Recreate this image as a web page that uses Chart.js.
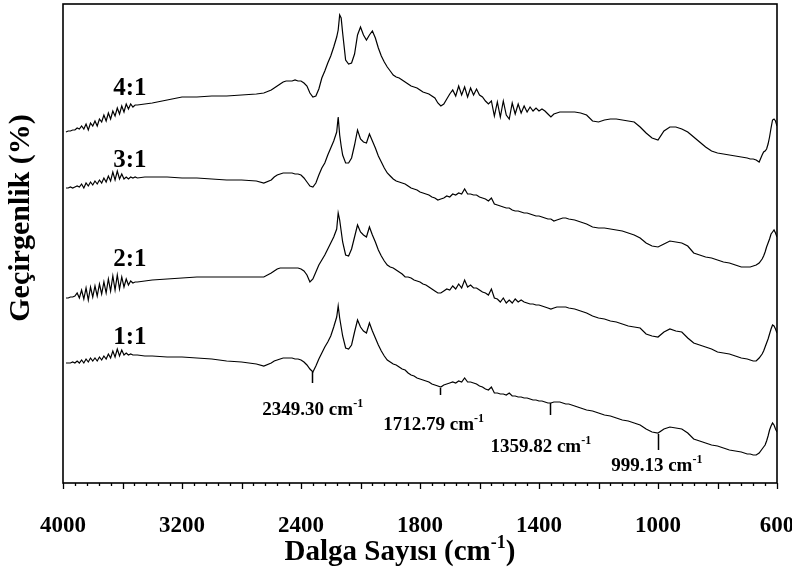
<!DOCTYPE html>
<html>
<head>
    <title>FTIR Spectra</title>
    <script src="https://cdn.jsdelivr.net/npm/chart.js"></script>
    <style>
        body { margin: 0; background: #fff; }
    </style>
</head>
<body>
    <canvas id="myChart" width="792" height="573"></canvas>

    <script>
        // Dalga sayısı ızgarası (cm-1), tüm spektrumlar için ortak
        var wavenumbers = [
            3980, 3965, 3950, 3935, 3920, 3905, 3890, 3875, 3860, 3845, 3830, 3815, 3800, 3785, 3770, 3755, 3740,
            3725, 3710, 3695, 3680, 3665, 3650, 3635, 3620, 3605, 3590, 3575, 3560, 3545, 3530, 3515, 3500,
            3450, 3400, 3300, 3200, 3100, 3000, 2900, 2800, 2700, 2650,
            2600, 2580, 2560, 2540, 2520, 2500, 2480, 2460, 2440, 2420, 2400, 2380, 2360, 2340, 2320, 2300, 2280,
            2260, 2240, 2220, 2200, 2180, 2160, 2150, 2140, 2130, 2120, 2100, 2080, 2060, 2040, 2020, 2000,
            1990, 1980, 1970, 1960, 1950, 1940, 1930, 1920, 1910, 1900, 1890, 1880, 1870, 1860, 1850,
            1840, 1830, 1820, 1810, 1800, 1790, 1780, 1770, 1760, 1750, 1740, 1730, 1720, 1710, 1700,
            1690, 1680, 1670, 1660, 1650, 1640, 1630, 1620, 1610, 1600, 1590, 1580, 1570, 1560, 1550,
            1540, 1530, 1520, 1510, 1500, 1490, 1480, 1470, 1460, 1450, 1440, 1430, 1420, 1410, 1400,
            1390, 1380, 1370, 1360, 1350, 1340, 1330, 1320, 1310, 1300,
            1280, 1260, 1240, 1220, 1200, 1180, 1160, 1140, 1120, 1100, 1080, 1060, 1040, 1020, 1000,
            980, 960, 940, 920, 900, 880, 860, 840, 820, 800, 780, 760, 740, 720, 700,
            690, 680, 670, 660, 650, 645, 640, 635, 630, 625, 620, 615, 610, 605, 600
        ];

        // Geçirgenlik (kaydırılmış, keyfi birim)
        var t41 = [
            368, 369, 369, 370, 370, 372, 371, 374, 371, 376, 370, 377, 374, 379, 374, 381, 378,
            385, 379, 387, 381, 389, 384, 392, 386, 394, 388, 396, 391, 396, 393, 395, 395,
            396, 397, 400, 403, 403, 404, 404, 405, 406, 407,
            410, 412, 414, 416, 418, 419, 419, 419, 420, 419, 419, 417, 414, 407, 403, 404, 411,
            422, 429, 437, 444, 453, 463, 470, 485, 482, 467, 440, 436, 437, 446, 465, 473,
            465, 460, 465, 469, 462, 452, 444, 438, 433, 429, 425, 423, 422, 420, 418,
            416, 414, 413, 412, 410, 408, 407, 406, 404, 402, 397, 394, 396, 401, 406,
            410, 404, 414, 405, 413, 403, 412, 405, 411, 405, 403, 399, 396, 399, 384,
            398, 383, 399, 385, 381, 397, 386, 396, 387, 394, 388, 393, 389, 392, 389,
            391, 389, 386, 383, 386, 387, 388, 388, 388, 388,
            388, 387, 385, 379, 378, 380, 381, 381, 380, 379, 378, 373, 367, 362, 360,
            369, 373, 373, 371, 368, 363, 358, 353, 349, 347, 346, 345, 344, 343, 342,
            341, 341, 340, 338, 345, 348, 349, 351, 356, 363, 372, 380, 381, 379, 374
        ];

        var t31 = [
            312, 312, 313, 312, 313, 314, 313, 316, 312, 317, 314, 318, 315, 319, 316, 320, 317,
            322, 318, 324, 319, 328, 320, 329, 321, 326, 321, 323, 321, 323, 322, 323, 322,
            323, 323, 323, 322, 322, 321, 320, 320, 319, 317,
            320, 323, 325, 326, 327, 327, 327, 327, 326, 326, 325, 322, 318, 314, 313, 317, 325,
            332, 337, 345, 352, 359, 368, 383, 365, 354, 345, 337, 337, 342, 355, 370, 361,
            358, 357, 366, 359, 352, 344, 338, 332, 327, 324, 321, 319, 318, 317, 316,
            314, 312, 311, 310, 308, 307, 306, 305, 303, 302, 300, 301, 302, 304, 303,
            306, 305, 307, 306, 311, 306, 306, 305, 305, 303, 302, 301, 299, 302, 296,
            295, 294, 293, 292, 292, 290, 289, 289, 288, 287, 287, 286, 285, 284, 284,
            283, 282, 281, 281, 279, 280, 281, 282, 282, 281,
            280, 278, 276, 273, 272, 272, 271, 270, 269, 267, 265, 262, 257, 254, 253,
            256, 259, 258, 257, 254, 247, 245, 243, 242, 240, 238, 237, 235, 233, 233,
            233, 234, 235, 237, 241, 244, 248, 253, 257, 261, 266, 268, 270, 267, 263
        ];

        var t21 = [
            202, 202, 203, 203, 204, 207, 202, 210, 201, 212, 200, 213, 203, 214, 204, 216, 206,
            218, 207, 221, 209, 224, 210, 225, 211, 223, 213, 221, 215, 219, 217, 218, 218,
            219, 220, 221, 222, 223, 223, 223, 223, 223, 223,
            227, 229, 231, 232, 232, 232, 232, 232, 232, 232, 231, 229, 225, 218, 221, 228, 235,
            240, 245, 251, 257, 263, 271, 287, 280, 269, 258, 245, 244, 251, 263, 275, 268,
            265, 263, 273, 265, 258, 250, 244, 239, 235, 233, 232, 230, 228, 226, 223,
            223, 222, 220, 219, 218, 216, 215, 213, 211, 209, 207, 207, 209, 211, 210,
            214, 211, 216, 212, 220, 213, 215, 212, 212, 210, 208, 207, 205, 211, 202,
            201, 198, 202, 197, 200, 197, 201, 198, 200, 198, 197, 196, 196, 195, 195,
            194, 193, 192, 191, 192, 193, 193, 193, 193, 192,
            191, 189, 187, 184, 182, 181, 179, 178, 176, 174, 173, 172, 166, 164, 163,
            168, 171, 169, 168, 162, 157, 155, 153, 151, 148, 147, 146, 144, 142, 141,
            140, 139, 139, 142, 146, 149, 153, 157, 161, 166, 171, 175, 174, 171, 167
        ];

        var t11 = [
            137, 137, 137, 138, 137, 139, 137, 140, 137, 141, 138, 142, 139, 142, 139, 143, 140,
            144, 141, 146, 142, 149, 143, 151, 144, 150, 145, 147, 145, 146, 145, 145, 145,
            144, 144, 143, 143, 142, 141, 139, 138, 136, 134,
            137, 139, 140, 141, 142, 142, 142, 142, 141, 141, 140, 138, 135, 131, 128, 134, 141,
            147, 153, 158, 164, 173, 183, 194, 182, 173, 164, 152, 151, 155, 168, 180, 173,
            169, 167, 177, 169, 162, 155, 149, 144, 140, 138, 136, 135, 133, 131, 130,
            127, 125, 124, 122, 121, 120, 119, 118, 116, 115, 114, 113, 115, 116, 117,
            118, 117, 119, 118, 122, 118, 118, 117, 116, 114, 113, 111, 110, 113, 107,
            107, 106, 106, 105, 107, 104, 104, 103, 103, 102, 102, 101, 100, 100, 99,
            99, 98, 97, 97, 98, 98, 98, 97, 96, 96,
            94, 92, 90, 89, 87, 85, 84, 82, 80, 79, 77, 75, 71, 68, 67,
            71, 73, 72, 71, 67, 61, 59, 57, 55, 54, 52, 50, 49, 48, 46,
            46, 45, 45, 47, 51, 53, 55, 59, 64, 70, 74, 77, 75, 71, 68
        ];

        var seriesNames = ["4:1", "3:1", "2:1", "1:1"];
        var seriesLabelWn = 3550;
        var seriesLabelY = [411, 339, 240, 162];

        // Eksen işaretleri
        var majorTicks = [4000, 3600, 3200, 2800, 2400, 2000, 1800, 1600, 1400, 1200, 1000, 800, 600];
        var labeledTicks = [4000, 3200, 2400, 1800, 1400, 1000, 600];

        // Pik işaretleri (1:1 spektrumu altında)
        var peakTexts = ["2349.30", "1712.79", "1359.82", "999.13"];
        var peakMarkWn = [2328, 1734, 1364, 1001];
        var peakMarkTop = [128, 112, 97, 66];
        var peakMarkBottom = [117, 105, 85, 50];
        var peakTextWn = [2321, 1754, 1394, 1004];
        var peakTextY = [90, 75, 53, 34];

        var FONT = "'Liberation Serif', 'Times New Roman', serif";

        // 4000-2000 arası sıkıştırılmış, 2000-600 arası genişletilmiş eksen
        function toUnits(wn) {
            return wn >= 2000 ? (4000 - wn) / 400 : 5 + (2000 - wn) / 200;
        }
        function fromUnits(u) {
            return u <= 5 ? 4000 - 400 * u : 2000 - 200 * (u - 5);
        }

        class WavenumberScale extends Chart.LinearScale {
            getPixelForValue(value) {
                if (value === null || value === undefined || isNaN(value)) return NaN;
                return this.getPixelForDecimal(toUnits(value) / 12);
            }
            getValueForPixel(pixel) {
                return fromUnits(this.getDecimalForPixel(pixel) * 12);
            }
            buildTicks() {
                return majorTicks.map(function (v) { return { value: v }; });
            }
        }
        WavenumberScale.id = "wavenumber";
        WavenumberScale.defaults = Chart.LinearScale.defaults;
        Chart.register(WavenumberScale);

        function drawSup(ctx, main, sup, tail, cx, cy, size) {
            var supSize = Math.round(size * 0.62);
            ctx.font = "bold " + size + "px " + FONT;
            var w1 = ctx.measureText(main).width;
            var w3 = ctx.measureText(tail).width;
            ctx.font = "bold " + supSize + "px " + FONT;
            var w2 = ctx.measureText(sup).width;
            var x = cx - (w1 + w2 + w3) / 2;
            ctx.textAlign = "left";
            ctx.textBaseline = "middle";
            ctx.font = "bold " + size + "px " + FONT;
            ctx.fillText(main, x, cy);
            ctx.font = "bold " + supSize + "px " + FONT;
            ctx.fillText(sup, x + w1, cy - size * 0.32);
            ctx.font = "bold " + size + "px " + FONT;
            ctx.fillText(tail, x + w1 + w2, cy);
        }

        var decorations = {
            id: "decorations",
            afterDatasetsDraw: function (chart) {
                var ctx = chart.ctx, a = chart.chartArea;
                var xs = chart.scales.x, ys = chart.scales.y;
                ctx.save();
                ctx.fillStyle = "#000";
                ctx.strokeStyle = "#000";

                // çerçeve
                ctx.lineWidth = 1.6;
                ctx.strokeRect(a.left, a.top, a.right - a.left, a.bottom - a.top);

                // x ekseni işaretleri
                ctx.lineWidth = 1.3;
                ctx.beginPath();
                for (var i = 0; i < majorTicks.length; i++) {
                    var px = Math.round(xs.getPixelForValue(majorTicks[i])) + 0.5;
                    ctx.moveTo(px, a.bottom);
                    ctx.lineTo(px, a.bottom + 6);
                    if (i < majorTicks.length - 1) {
                        for (var k = 1; k < 5; k++) {
                            var mx = Math.round(xs.getPixelForValue(fromUnits(i + k / 5))) + 0.5;
                            ctx.moveTo(mx, a.bottom);
                            ctx.lineTo(mx, a.bottom + 3);
                        }
                    }
                }
                ctx.stroke();

                // pik işaretleri
                ctx.lineWidth = 1.5;
                ctx.beginPath();
                for (var p = 0; p < peakMarkWn.length; p++) {
                    var pxm = Math.round(xs.getPixelForValue(peakMarkWn[p])) + 0.5;
                    ctx.moveTo(pxm, ys.getPixelForValue(peakMarkTop[p]));
                    ctx.lineTo(pxm, ys.getPixelForValue(peakMarkBottom[p]));
                }
                ctx.stroke();
                for (var q = 0; q < peakTexts.length; q++) {
                    drawSup(ctx, peakTexts[q] + " cm", "-1", "",
                        xs.getPixelForValue(peakTextWn[q]), ys.getPixelForValue(peakTextY[q]), 19);
                }

                // seri etiketleri
                ctx.font = "bold 25px " + FONT;
                ctx.textAlign = "center";
                ctx.textBaseline = "middle";
                for (var s = 0; s < seriesNames.length; s++) {
                    ctx.fillText(seriesNames[s], xs.getPixelForValue(seriesLabelWn), ys.getPixelForValue(seriesLabelY[s]));
                }

                // eksen başlıkları
                drawSup(ctx, "Dalga Sayısı (cm", "-1", ")", 400, 553, 29);
                ctx.save();
                ctx.translate(21, 218);
                ctx.rotate(-Math.PI / 2);
                ctx.font = "bold 30px " + FONT;
                ctx.textAlign = "center";
                ctx.textBaseline = "middle";
                ctx.fillText("Geçirgenlik (%)", 0, 0);
                ctx.restore();

                ctx.restore();
            }
        };

        var datasets = [t41, t31, t21, t11].map(function (values, idx) {
            return {
                label: seriesNames[idx],
                data: wavenumbers.map(function (wn, i) { return { x: wn, y: values[i] }; }),
                borderColor: "#000",
                borderWidth: 1.2,
                pointRadius: 0,
                tension: 0,
                fill: false
            };
        });

        var ctx = document.getElementById("myChart").getContext("2d");
        new Chart(ctx, {
            type: "line",
            data: { datasets: datasets },
            options: {
                responsive: false,
                animation: false,
                layout: { padding: { left: 63, right: 15, top: 4, bottom: 0 } },
                plugins: {
                    legend: { display: false },
                    tooltip: { enabled: false }
                },
                scales: {
                    x: {
                        type: "wavenumber",
                        min: 600,
                        max: 4000,
                        grid: { display: false },
                        border: { display: false },
                        afterFit: function (scale) {
                            scale.height = 90;
                            scale.paddingLeft = 0;
                            scale.paddingRight = 0;
                        },
                        ticks: {
                            autoSkip: false,
                            maxRotation: 0,
                            minRotation: 0,
                            padding: 21,
                            color: "#000",
                            font: { family: FONT, size: 23, weight: "bold" },
                            callback: function (value) {
                                return labeledTicks.indexOf(value) >= 0 ? String(value) : "";
                            }
                        }
                    },
                    y: {
                        display: false,
                        min: 17,
                        max: 496
                    }
                }
            },
            plugins: [decorations]
        });
    </script>
</body>
</html>
